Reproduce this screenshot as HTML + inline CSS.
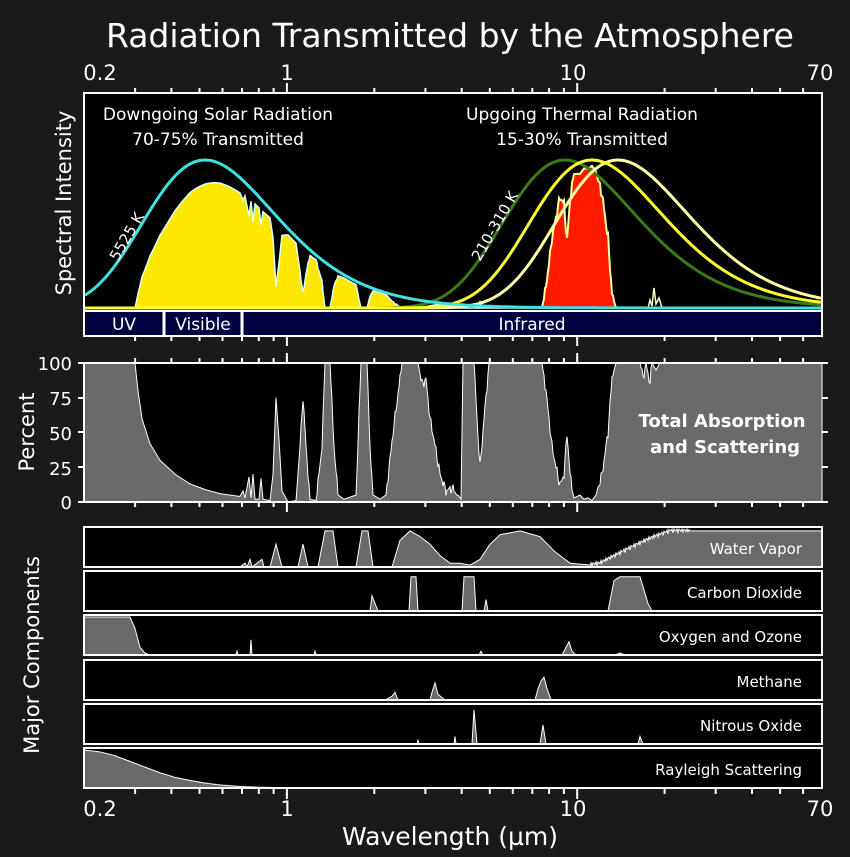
<!DOCTYPE html>
<html><head><meta charset="utf-8"><style>
html,body{margin:0;padding:0;background:#1a1a1a;}
svg{display:block}
text{font-family:"DejaVu Sans","Liberation Sans",sans-serif;fill:#fff}
</style></head><body>
<svg id="s" width="850" height="857" viewBox="0 0 850 857" xmlns="http://www.w3.org/2000/svg">
<rect width="850" height="857" fill="#1a1a1a"/>
<text x="450" y="47" font-size="33" text-anchor="middle">Radiation Transmitted by the Atmosphere</text>
<g font-size="21" text-anchor="middle">
<text x="100" y="80">0.2</text><text x="287" y="80">1</text><text x="573" y="80">10</text><text x="820" y="80">70</text>
<text x="100" y="816">0.2</text><text x="287" y="816">1</text><text x="573" y="816">10</text><text x="820" y="816">70</text>
</g>
<text x="450" y="845" font-size="25" text-anchor="middle">Wavelength (µm)</text>
<text transform="translate(71,203) rotate(-90)" font-size="21" text-anchor="middle">Spectral Intensity</text>
<text transform="translate(34,432) rotate(-90)" font-size="21" text-anchor="middle">Percent</text>
<text transform="translate(39,655) rotate(-90)" font-size="21" text-anchor="middle">Major Components</text>
<g font-size="18" text-anchor="end">
<text x="72" y="370">100</text>
<text x="72" y="405">75</text><text x="72" y="440">50</text><text x="72" y="475">25</text><text x="72" y="509">0</text>
</g>
<rect x="84" y="93" width="738" height="243" fill="#000"/>
<g id="p1"></g>
<rect x="86" y="312" width="734" height="23" fill="#000040"/>
<line x1="164" y1="311" x2="164" y2="336" stroke="#fff" stroke-width="3"/>
<line x1="242" y1="311" x2="242" y2="336" stroke="#fff" stroke-width="3"/>
<line x1="84" y1="311" x2="822" y2="311" stroke="#fff" stroke-width="2"/>
<rect x="84" y="93" width="738" height="243" fill="none" stroke="#fff" stroke-width="2"/>
<g font-size="17" text-anchor="middle">
<text x="124" y="330">UV</text><text x="203" y="330">Visible</text><text x="532" y="330">Infrared</text>
<text x="218" y="120">Downgoing Solar Radiation</text><text x="218" y="145">70-75% Transmitted</text>
<text x="582" y="120">Upgoing Thermal Radiation</text><text x="582" y="145">15-30% Transmitted</text>
</g>
<text transform="translate(118,262) rotate(-60)" font-size="15">5525 K</text>
<text transform="translate(480,262) rotate(-60)" font-size="15">210-310 K</text>
<rect x="84" y="363" width="738" height="139" fill="#000"/>
<g id="p2"></g>
<line x1="84" y1="363" x2="828" y2="363" stroke="#fff" stroke-width="2"/>
<line x1="78" y1="502" x2="828" y2="502" stroke="#fff" stroke-width="2"/>
<line x1="84" y1="363" x2="84" y2="502" stroke="#fff" stroke-width="2"/>
<text x="722" y="427" font-size="18" font-weight="bold" text-anchor="middle">Total Absorption</text>
<text x="725" y="453" font-size="18" font-weight="bold" text-anchor="middle">and Scattering</text>
<g id="p3"></g>
<g id="ticks" stroke="#fff" stroke-width="2"></g>
</svg>
<script>
var NS="http://www.w3.org/2000/svg";
function X(l){return 84+(Math.log10(l)+0.699)*290.3;}
function L(x){return Math.pow(10,(x-84)/290.3-0.699);}
function interp(pts,x){if(x<=pts[0][0])return pts[0][1];for(var i=1;i<pts.length;i++){if(x<=pts[i][0]){var a=pts[i-1],b=pts[i];return a[1]+(b[1]-a[1])*(x-a[0])/(b[0]-a[0]);}}return pts[pts.length-1][1];}
function add(g,tag,attrs){var e=document.createElementNS(NS,tag);for(var k in attrs)e.setAttribute(k,attrs[k]);document.getElementById(g).appendChild(e);return e;}
function planck(x,xp){var lp=L(xp),l=L(x),a=3.92,z=a*lp/l;if(z>80)return 0;return (Math.pow(z,4)/(Math.exp(z)-1))/(Math.pow(a,4)/(Math.exp(a)-1));}
var tot=[[84,100],[135,100],[138,80],[142,60],[150,42],[160,30],[175,20],[190,13],[205,9],[220,6],[230,5],[240,4],[243,8],[245,3],[249,18],[251,3],[253,20],[255,2],[259,2],[261,17],[263,2],[270,1],[273,20],[276,75],[279,45],[282,8],[288,0],[296,1],[300,40],[303,76],[306,40],[310,2],[316,1],[322,40],[325,100],[330,100],[334,40],[338,5],[344,2],[356,5],[361,100],[367,100],[370,40],[373,5],[380,2],[386,5],[393,50],[402,100],[418,100],[422,85],[426,88],[430,60],[434,45],[440,20],[446,8],[452,10],[458,5],[461,2],[463,100],[474,100],[477,60],[480,25],[484,60],[489,100],[542,100],[546,80],[552,40],[556,25],[560,12],[564,20],[567,50],[570,20],[574,3],[580,5],[584,2],[588,3],[592,1],[596,5],[602,20],[608,50],[612,90],[616,100],[640,100],[643,90],[646,100],[650,85],[652,100],[656,95],[660,100],[822,100]];
function A(x){var v=interp(tot,x)/100;var n=Math.sin(x*2.7)*Math.sin(x*1.3)*0.04;return Math.max(0,Math.min(1,v+(x>300&&v>0.05&&v<0.95?n:0)));}
var base=308,amp=148;
var sol="",yel="M"+84+","+base,red="M540,"+base,g1="",g2="",g3="";
for(var x=85;x<=821;x+=1){
 var s=planck(x,205);var ys=base-amp*s;sol+=(x==85?"M":"L")+x+","+ys.toFixed(1)+" ";
 var t=s*0.92*(1-A(x));yel+=" L"+x+","+(base-amp*t).toFixed(1);
 g1+=(x==85?"M":"L")+x+","+(base-amp*planck(x,565)).toFixed(1)+" ";
 g2+=(x==85?"M":"L")+x+","+(base-amp*planck(x,592)).toFixed(1)+" ";
 g3+=(x==85?"M":"L")+x+","+(base-amp*planck(x,618)).toFixed(1)+" ";
 if(x>=540&&x<=620){red+=" L"+x+","+(base-amp*0.97*planck(x,592)*(1-A(x))).toFixed(1);}
}
yel+=" L821,"+base+" Z";red+=" L620,"+base+" Z";
add("p1","path",{d:yel,fill:"#ffe800",stroke:"#d8ffff","stroke-width":1.5});
add("p1","path",{d:red,fill:"#ff1a00",stroke:"#ffffa0","stroke-width":2});
add("p1","path",{d:"M648,308 L650,300 L652,306 L654,288 L656,304 L659,298 L662,308 M478,308 L480,302 L482,308",fill:"none",stroke:"#ffffc0","stroke-width":1.5});
add("p1","path",{d:g1,fill:"none",stroke:"#3a7a18","stroke-width":3});
add("p1","path",{d:g3,fill:"none",stroke:"#ffffa8","stroke-width":3});
add("p1","path",{d:g2,fill:"none",stroke:"#ffff30","stroke-width":3});
add("p1","path",{d:sol,fill:"none",stroke:"#40e0e0","stroke-width":3});
var p="M84,502";for(var x=84;x<=822;x++){p+=" L"+x+","+(502-139*A(x)).toFixed(1);}p+=" L822,502 Z";
add("p2","path",{d:p,fill:"#6a6a6a",stroke:"#fff","stroke-width":1});
var rows=[
 [527,"Water Vapor",[[84,0],[240,0],[245,0.1],[247,0],[250,0.2],[252,0],[262,0.2],[264,0],[270,0],[276,0.6],[282,0],[298,0],[303,0.6],[308,0],[318,0],[325,0.95],[333,0.95],[338,0],[356,0],[362,0.95],[368,0.95],[373,0],[392,0],[400,0.7],[410,0.95],[420,0.8],[430,0.6],[440,0.3],[450,0.1],[460,0.1],[470,0.05],[480,0.2],[490,0.6],[500,0.85],[520,0.95],[540,0.8],[555,0.4],[570,0.1],[590,0.05],[600,0.1],[615,0.3],[630,0.5],[650,0.75],[670,0.95],[822,0.95]],true],
 [571,"Carbon Dioxide",[[84,0],[370,0],[372,0.4],[375,0.2],[378,0],[409,0],[411,0.9],[416,0.9],[418,0],[462,0],[464,0.9],[474,0.9],[476,0],[484,0],[486,0.3],[488,0],[608,0],[614,0.8],[620,0.9],[640,0.9],[648,0.2],[652,0],[822,0]]],
 [615,"Oxygen and Ozone",[[84,1],[130,1],[135,0.7],[140,0.2],[145,0.05],[150,0],[236,0],[237,0.1],[238,0],[250,0],[251,0.4],[252,0],[314,0],[315,0.1],[316,0],[479,0],[481,0.1],[483,0],[562,0],[566,0.2],[569,0.35],[572,0.1],[576,0],[615,0],[620,0.05],[625,0],[822,0]]],
 [660,"Methane",[[84,0],[385,0],[392,0.1],[395,0.2],[398,0],[430,0],[432,0.2],[435,0.45],[438,0.15],[445,0],[535,0],[538,0.3],[541,0.5],[544,0.6],[547,0.3],[551,0],[822,0]]],
 [704,"Nitrous Oxide",[[84,0],[417,0],[418,0.1],[419,0],[454,0],[455,0.2],[456,0],[472,0],[474,0.9],[477,0],[540,0],[543,0.5],[546,0],[638,0],[640,0.2],[643,0],[822,0]]],
 [748,"Rayleigh Scattering",[[84,1],[100,0.95],[115,0.85],[130,0.7],[145,0.55],[160,0.4],[175,0.28],[190,0.2],[205,0.13],[220,0.08],[240,0.04],[260,0.02],[300,0],[822,0]]]
];
rows.forEach(function(r){
 var y0=r[0],h=40;
 add("p3","rect",{x:84,y:y0,width:738,height:h,fill:"#000"});
 var d="M84,"+(y0+h);
 for(var x=84;x<=822;x++){var v=interp(r[2],x);if(r[3]&&x>590&&x<690)v+=Math.abs(Math.sin(x*1.9))*0.12-0.06;v=Math.max(0,Math.min(1,v));d+=" L"+x+","+(y0+h-(h-2)*v).toFixed(1);}
 d+=" L822,"+(y0+h)+" Z";
 add("p3","path",{d:d,fill:"#6a6a6a",stroke:"#fff","stroke-width":1});
 add("p3","rect",{x:84,y:y0,width:738,height:h,fill:"none",stroke:"#fff","stroke-width":2});
 var t=add("p3","text",{x:802,y:y0+27,"font-size":15,"text-anchor":"end"});t.textContent=r[1];
});
var tk="";
var ls=[0.3,0.4,0.5,0.6,0.7,0.8,0.9,2,3,4,5,6,7,8,9,20,30,40,50,60];
function ticks(y,dir){ls.forEach(function(l){var x=X(l);tk+="M"+x.toFixed(1)+","+y+" v"+(dir*5)+" ";});[1,10].forEach(function(l){var x=X(l);tk+="M"+x.toFixed(1)+","+y+" v"+(dir*10)+" ";});}
ticks(93,-1);ticks(336,1);ticks(363,-1);ticks(502,1);ticks(789,1);
[363,398,432,467,502].forEach(function(y){tk+="M78,"+y+" h6 M822,"+y+" h6 ";});
add("ticks","path",{d:tk,fill:"none"});
</script>
</body></html>
